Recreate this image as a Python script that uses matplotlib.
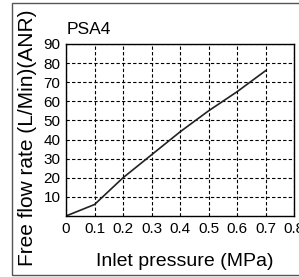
import matplotlib
matplotlib.use("Agg")
import matplotlib.pyplot as plt
from matplotlib.patches import Rectangle

plt.rcParams['font.family'] = ['Liberation Sans', 'DejaVu Sans']

# inlet pressure (MPa) vs free flow rate (L/Min ANR)
pressure = [0, 0.1, 0.2, 0.3, 0.4, 0.5, 0.6, 0.7]
flow = [0, 6, 20, 32, 44, 55, 65, 76]
xticks = [0, 0.1, 0.2, 0.3, 0.4, 0.5, 0.6, 0.7, 0.8]
xlabels = ["0", "0.1", "0.2", "0.3", "0.4", "0.5", "0.6", "0.7", "0.8"]
yticks = [10, 20, 30, 40, 50, 60, 70, 80, 90]

fig = plt.figure(figsize=(2.99, 2.77), dpi=100)
ax = fig.add_axes([66/299, 1-216/277, 228/299, 172/277])

ax.plot(pressure, flow, color='#222222', lw=1.2)
ax.set_xlim(0, 0.8)
ax.set_ylim(0, 90)
ax.set_xticks(xticks)
ax.set_xticklabels(xlabels)
ax.set_yticks(yticks)
ax.tick_params(length=0, labelsize=11, pad=4)
ax.grid(True, color='black', ls=(0, (3, 2)), lw=0.8)
for s in ax.spines.values():
    s.set_linewidth(1.0)

fig.text(185/299, 1-262/277, "Inlet pressure (MPa)", fontsize=14,
         ha='center', va='center')
fig.text(28/299, 1-138/277, "Free flow rate (L/Min)(ANR)", rotation=90,
         fontsize=15, ha='center', va='center')
fig.text(67/299, 1-29/277, "PSA4", fontsize=12.5, ha='left', va='center')

# outer frame
fig.patches.append(Rectangle((12/299, 2/277), 290/299, 272/277,
                             transform=fig.transFigure, fill=False,
                             edgecolor='#555555', lw=1.0))

fig.savefig("out.png", dpi=100)
